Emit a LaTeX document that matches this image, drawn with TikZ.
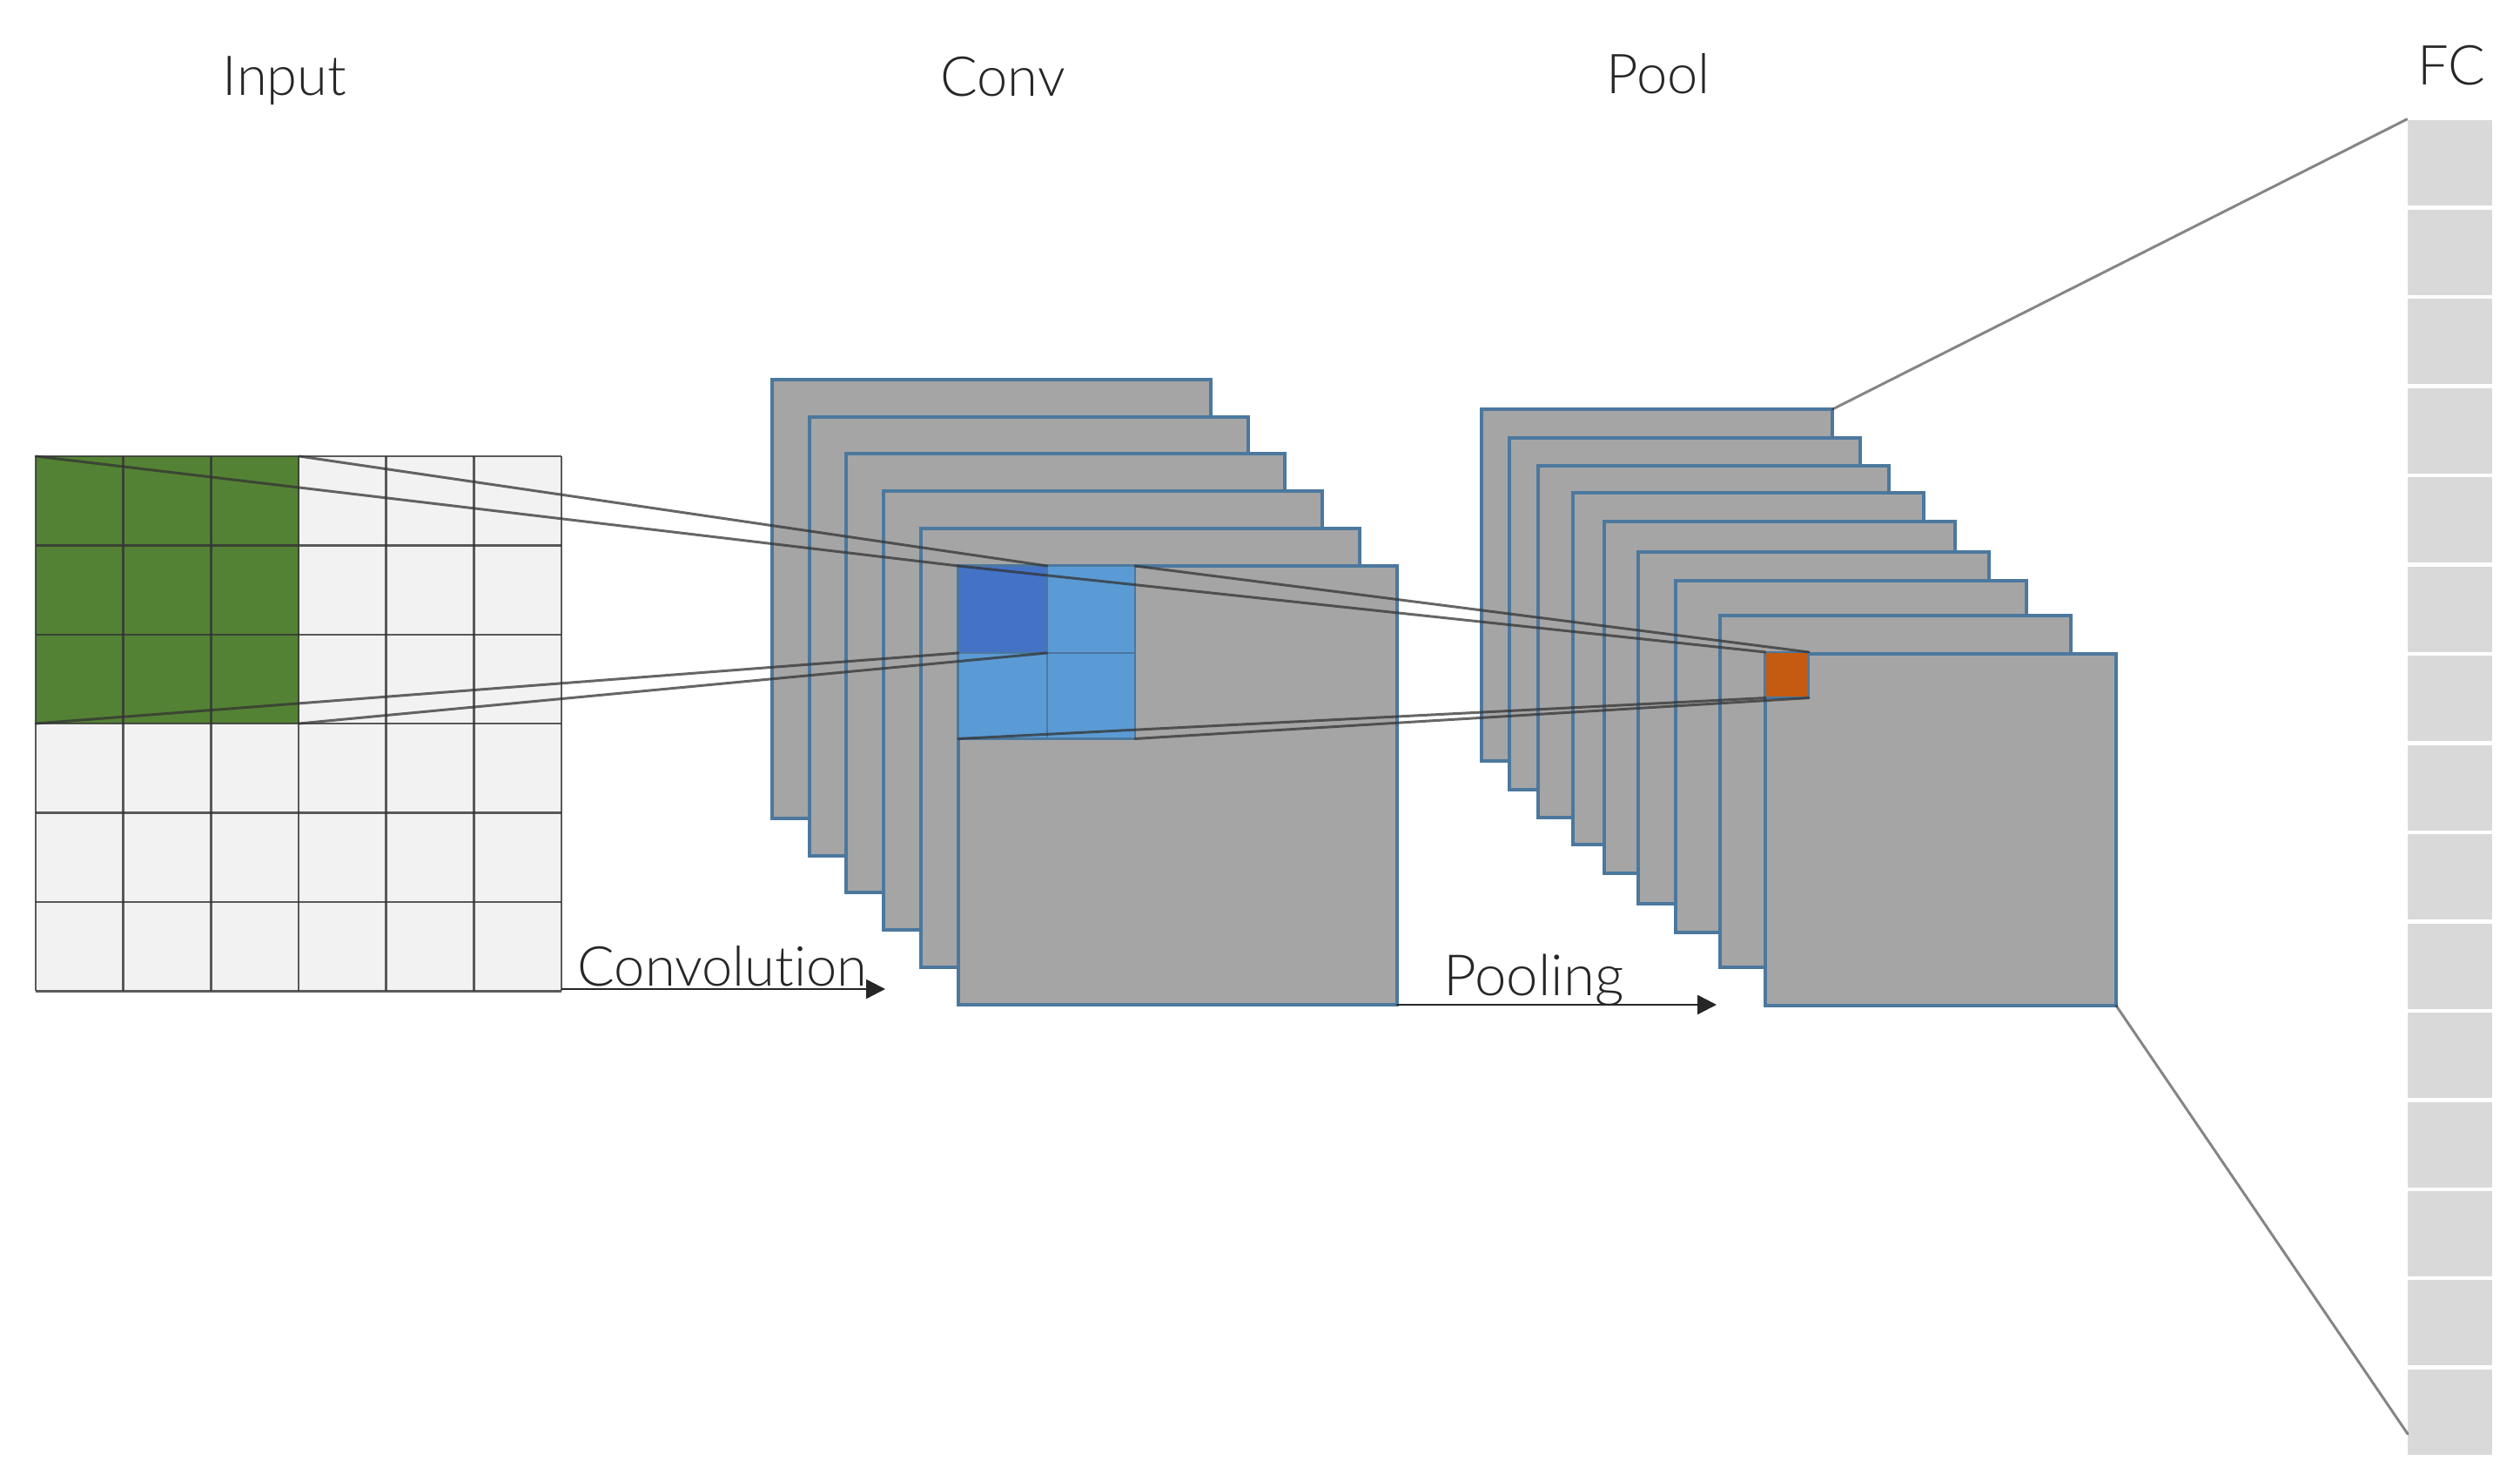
\documentclass[tikz,border=0pt]{standalone}
\usepackage{fontspec}
\setmainfont{Lato Light}[Ligatures=NoCommon]
\usepackage{tkz-euclide}
\usetikzlibrary{arrows.meta,calc}
\definecolor{GridClr}{rgb}{0.95,0.95,0.95}
\definecolor{GridLnClr}{rgb}{0.2,0.2,0.2}
\definecolor{GreenClr}{rgb}{0.329,0.51,0.208}
\definecolor{SheetClr}{rgb}{0.647,0.647,0.647}
\definecolor{EdgeClr}{rgb}{0.3,0.47,0.62}
\definecolor{DarkBlueClr}{rgb}{0.267,0.447,0.769}
\definecolor{LightBlueClr}{rgb}{0.357,0.608,0.835}
\definecolor{OrangeClr}{rgb}{0.773,0.353,0.067}
\definecolor{CellClr}{rgb}{0.851,0.851,0.851}
\definecolor{LinkClr}{rgb}{0.2,0.2,0.2}
\tikzset{
  SheetBox/.style={fill=SheetClr,draw=EdgeClr,line width=.9pt},
  GridLn/.style={color=GridLnClr,draw opacity=.8,line width=.7pt},
  LinkLn/.style={color=LinkClr,draw opacity=.75,line width=.85pt},
  FlowLn/.style={color=black!85,line width=.7pt,-{Triangle[width=.22cm,length=.22cm]}},
  LabelTxt/.style={inner sep=0pt,font=\fontsize{18}{20}\selectfont,text=black!85}
}

\begin{document}
\begin{tikzpicture}
\tkzSetUpLine[line width=.6pt,color=black]

\path[use as bounding box] (0,0) rectangle (28.95,17);

\tkzDefPoints{0.41/11.76/GA,6.45/11.76/GB,6.45/5.615/GC,0.41/5.615/GD}
\tkzDefPoints{3.437/11.76/GE,3.437/8.69/GF,0.41/8.69/GG}
\tkzDefPoints{11.01/10.50/KA,12.03/10.50/KB,13.04/10.50/KC}
\tkzDefPoints{11.01/9.50/KD,12.03/9.50/KE,13.04/9.50/KF}
\tkzDefPoints{11.01/8.515/KG,12.03/8.515/KH,13.04/8.515/KI}
\tkzDefPoints{20.28/9.51/OA,20.78/9.51/OB,20.78/8.984/OC,20.28/8.984/OD}
\tkzDefPoints{21.054/12.30/PT,24.31/5.45/PB,27.65/15.63/FT,27.66/0.53/FB}
\tkzDefPoints{6.46/5.64/CS,10.17/5.64/CE,16.05/5.46/PS,19.72/5.46/PE}

\tkzFillPolygon[fill=GridClr](GA,GB,GC,GD)
\tkzFillPolygon[fill=GreenClr](GA,GE,GF,GG)
\foreach \i in {0,...,6}{
  \draw[GridLn] ($(GA)!\i/6!(GB)$) -- ($(GD)!\i/6!(GC)$);
  \draw[GridLn] ($(GA)!\i/6!(GD)$) -- ($(GB)!\i/6!(GC)$);
}

\foreach \x/\y in {8.87/12.64,9.30/12.21,9.72/11.79,10.15/11.36,10.58/10.93,11.01/10.50}
  \draw[SheetBox] (\x,\y) rectangle ++(5.04,-5.04);

\foreach \x/\y in {17.02/12.30,17.34/11.97,17.67/11.65,18.07/11.34,18.43/11.01,18.82/10.66,19.25/10.33,19.76/9.93,20.28/9.49}
  \draw[SheetBox] (\x,\y) rectangle ++(4.03,-4.04);

\foreach \i in {0,...,14}
  \fill[CellClr] (27.66,15.615-1.0246*\i) rectangle ++(.97,-.98);

\tkzFillPolygon[fill=LightBlueClr](KA,KC,KI,KG)
\tkzFillPolygon[fill=DarkBlueClr](KA,KB,KE,KD)
\tkzDrawPolygon[color=EdgeClr,line width=.7pt](KA,KC,KI,KG)
\tkzDrawSegments[color=EdgeClr,line width=.7pt](KB,KH KD,KF)

\tkzFillPolygon[fill=OrangeClr](OA,OB,OC,OD)
\tkzDrawPolygon[color=EdgeClr,line width=.7pt](OA,OB,OC,OD)

\tkzDrawSegments[LinkLn](GA,KA GE,KB GG,KD GF,KE)
\tkzDrawSegments[LinkLn](KA,OA KC,OB KG,OD KI,OC)
\tkzDrawSegments[LinkLn,draw opacity=.6](PT,FT PB,FB)

\tkzDrawSegment[FlowLn](CS,CE)
\tkzDrawSegment[FlowLn](PS,PE)

\node[LabelTxt] (InputLabel) at (3.27,16.07) {Input};
\node[LabelTxt] (ConvLabel) at (11.52,16.12) {Conv};
\node[LabelTxt] (PoolLabel) at (19.05,16.15) {Pool};
\node[LabelTxt] (FcLabel) at (28.16,16.25) {FC};
\node[LabelTxt] (ConvolutionLabel) at (8.30,5.90) {Convolution};
\node[LabelTxt,font=\fontsize{18.6}{20}\selectfont] (PoolingLabel) at (17.62,5.74) {Pooling};

\end{tikzpicture}
\end{document}
